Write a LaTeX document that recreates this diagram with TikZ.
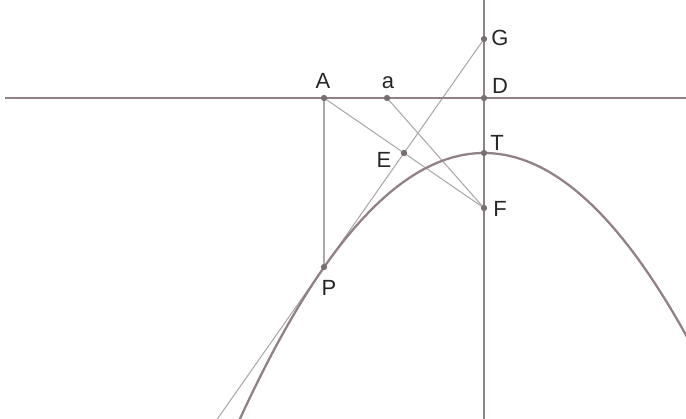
\documentclass[tikz,border=0pt]{standalone}
\usepackage{fontspec}
\setmainfont{Liberation Sans}
\usepackage{tikz}
\usetikzlibrary{calc}

\definecolor{axisgray}{RGB}{145,128,132}
\definecolor{thingray}{RGB}{172,167,169}
\definecolor{dotgray}{RGB}{120,110,112}

\tikzset{
  mainline/.style={axisgray, line width=1.3pt},
  thinline/.style={thingray, line width=0.6pt},
  pt/.style={circle, fill=dotgray, inner sep=0pt, minimum size=3.6pt},
  lbl/.style={font=\fontsize{12.5}{14}\selectfont, text=black!85, inner sep=0pt}
}

\begin{document}
\begin{tikzpicture}[x=0.02cm, y=-0.02cm]
\useasboundingbox (0,0) rectangle (686,419);
\clip (0,0) rectangle (686,419);
% points
\coordinate (A) at (324,98);
\coordinate (a) at (387,98);
\coordinate (D) at (484,98);
\coordinate (G) at (484,39);
\coordinate (T) at (484,153);
\coordinate (E) at (404,153);
\coordinate (F) at (484,208);
\coordinate (P) at (324,267);
\coordinate (tanend) at ($(G)!1.75!(P)$);
% construction lines
\draw[thinline] (A) -- (P);
\draw[thinline] (A) -- (F);
\draw[thinline] (a) -- (F);
\draw[thinline] (G) -- (tanend);
% directrix, axis, parabola
\draw[mainline] (5,98) -- (686,98);
\draw[mainline] (484,0) -- (484,419);
\draw[mainline, domain=236:690, samples=120, smooth] plot (\x, {153+44.64*((\x-484)/100)^2});
% dots
\foreach \p in {A,a,D,G,T,E,F,P}
  \node[pt] at (\p) {};
% labels
\node[lbl] at (323,81) {A};
\node[lbl] at (388,83) {a};
\node[lbl] at (500,86) {D};
\node[lbl] at (500,38) {G};
\node[lbl] at (497,143) {T};
\node[lbl] at (384,160) {E};
\node[lbl] at (500,209) {F};
\node[lbl] at (329,288) {P};
\end{tikzpicture}
\end{document}
